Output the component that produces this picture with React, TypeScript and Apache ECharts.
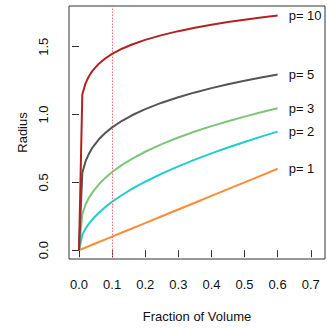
import React, { useEffect, useRef } from "react";
import * as echarts from "echarts";

const fractions = [0, 0.01, 0.02, 0.03, 0.04, 0.06, 0.08, 0.1, 0.13, 0.16, 0.2, 0.25, 0.3, 0.35, 0.4, 0.45, 0.5, 0.55, 0.6];
const radiusP1 = [0, 0.01, 0.02, 0.03, 0.04, 0.06, 0.08, 0.1, 0.13, 0.16, 0.2, 0.25, 0.3, 0.35, 0.4, 0.45, 0.5, 0.55, 0.6];
const radiusP2 = [0, 0.1128, 0.1596, 0.1954, 0.2257, 0.2764, 0.3192, 0.3568, 0.4068, 0.4514, 0.5046, 0.5642, 0.618, 0.6676, 0.7137, 0.7569, 0.7979, 0.8368, 0.874];
const radiusP3 = [0, 0.2673, 0.3368, 0.3855, 0.4243, 0.4857, 0.5346, 0.5759, 0.6285, 0.6736, 0.7256, 0.7816, 0.8306, 0.8744, 0.9142, 0.9508, 0.9847, 1.0165, 1.0464];
const radiusP5 = [0, 0.5712, 0.6561, 0.7115, 0.7537, 0.8173, 0.8657, 0.9052, 0.954, 0.9945, 1.0398, 1.0873, 1.1277, 1.163, 1.1945, 1.2229, 1.249, 1.273, 1.2954];
const radiusP10 = [0, 1.1491, 1.2316, 1.2825, 1.32, 1.3746, 1.4147, 1.4467, 1.4851, 1.5163, 1.5505, 1.5855, 1.6146, 1.6397, 1.6618, 1.6815, 1.6992, 1.7155, 1.7305];

const seriesNames = ["p= 1", "p= 2", "p= 3", "p= 5", "p= 10"];
const seriesColors = ["#ff8c33", "#22cccc", "#7cc57a", "#555555", "#b22222"];
const seriesValues = [radiusP1, radiusP2, radiusP3, radiusP5, radiusP10];

const xTicks = [0, 0.1, 0.2, 0.3, 0.4, 0.5, 0.6, 0.7];
const yTicks = [0, 0.5, 1.0, 1.5];
const refLineX = 0.1;

const FONT = "'Liberation Sans', Arial, Helvetica, sans-serif";

export default function App() {
  const ref = useRef<HTMLDivElement>(null);

  useEffect(() => {
    document.body.style.margin = "0";
    const chart = echarts.init(ref.current!, null, { renderer: "svg" });

    const series: any[] = seriesValues.map((vals, i) => ({
      type: "line",
      name: seriesNames[i],
      data: fractions.map((x, j) => [x, vals[j]]),
      showSymbol: false,
      symbol: "none",
      lineStyle: { color: seriesColors[i], width: 2 },
      itemStyle: { color: seriesColors[i] },
      endLabel: {
        show: true,
        formatter: seriesNames[i],
        color: "#111",
        fontSize: 13,
        fontFamily: FONT,
        distance: 11,
      },
      z: 2 + i,
    }));

    series[0].markLine = {
      silent: true,
      symbol: ["none", "none"],
      label: { show: false },
      lineStyle: { color: "#ff6a6a", type: [1.5, 1.5], width: 1 },
      data: [{ xAxis: refLineX }],
    };

    chart.setOption({
      animation: false,
      grid: {
        left: 69,
        top: 6,
        width: 256,
        height: 257,
        show: true,
        borderColor: "#333",
        borderWidth: 1,
        backgroundColor: "transparent",
      },
      xAxis: {
        type: "value",
        min: -0.0302,
        max: 0.743,
        name: "Fraction of Volume",
        nameLocation: "middle",
        nameGap: 51,
        nameTextStyle: { color: "#111", fontSize: 13, fontFamily: FONT, verticalAlign: "top" },
        axisLine: { show: false },
        splitLine: { show: false },
        axisTick: { show: true, length: 7, lineStyle: { color: "#333" }, customValues: xTicks },
        axisLabel: {
          color: "#111",
          fontSize: 13,
          fontFamily: FONT,
          margin: 19,
          customValues: xTicks,
          formatter: (v: number) => v.toFixed(1),
        },
      },
      yAxis: {
        type: "value",
        min: -0.065,
        max: 1.8,
        name: "Radius",
        nameLocation: "middle",
        nameGap: 40,
        nameTextStyle: { color: "#111", fontSize: 13, fontFamily: FONT },
        axisLine: { show: false },
        splitLine: { show: false },
        axisTick: { show: true, length: 7, lineStyle: { color: "#333" }, customValues: yTicks },
        axisLabel: {
          color: "#111",
          fontSize: 13,
          fontFamily: FONT,
          margin: 19,
          rotate: 90,
          customValues: yTicks,
          formatter: (v: number) => v.toFixed(1),
        },
      },
      series,
    });

    return () => chart.dispose();
  }, []);

  return <div ref={ref} style={{ width: 327, height: 328 }} />;
}
